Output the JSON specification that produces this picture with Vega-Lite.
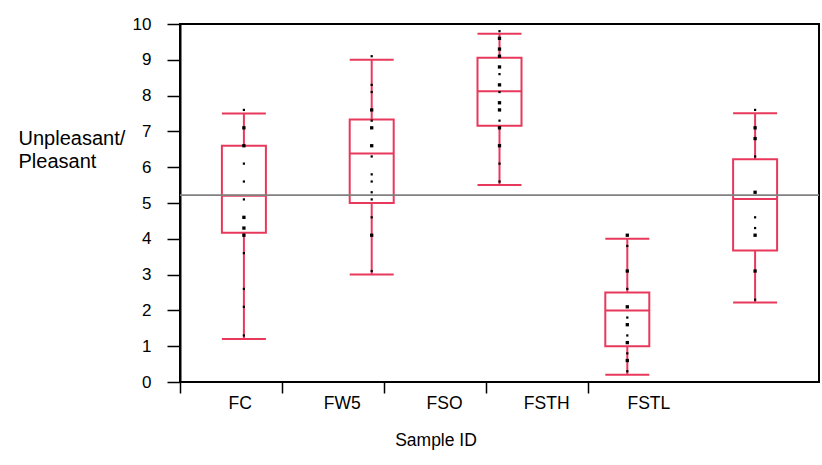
{
  "$schema": "https://vega.github.io/schema/vega-lite/v6.json",
  "width": 639,
  "height": 358,
  "autosize": {"type": "none"},
  "padding": {"left": 180, "top": 24, "right": 3, "bottom": 83},
  "background": "white",
  "config": {
    "view": {"stroke": "#000", "strokeWidth": 2},
    "font": "Liberation Sans",
    "tick": {"opacity": 1},
    "axisY": {
      "titleAngle": 0, "titleAlign": "left", "titleBaseline": "top",
      "titleX": -162, "titleY": 104, "titleLineHeight": 23,
      "titleFontSize": 20, "titleFontWeight": "normal", "titleColor": "#000", "titleFont": "Liberation Sans",
      "values": [0, 1, 2, 3, 4, 5, 6, 7, 8, 9, 10],
      "labelFontSize": 17, "labelFont": "Liberation Sans", "labelColor": "#000", "labelPadding": 16,
      "labelFlush": false, "labelOverlap": false,
      "tickSize": 13, "tickColor": "#000", "tickWidth": 1.5,
      "domainColor": "#000", "domainWidth": 2, "grid": false
    }
  },
  "datasets": {
    "summary": [
      {"id": "FC", "lower": 1.2, "q1": 4.17, "median": 5.2, "q3": 6.6, "upper": 7.5},
      {"id": "FW5", "lower": 3.0, "q1": 5.0, "median": 6.38, "q3": 7.33, "upper": 9.0},
      {"id": "FSO", "lower": 5.5, "q1": 7.16, "median": 8.12, "q3": 9.06, "upper": 9.73},
      {"id": "FSTH", "lower": 0.2, "q1": 1.0, "median": 2.0, "q3": 2.5, "upper": 4.0},
      {"id": "FSTL", "lower": 2.22, "q1": 3.67, "median": 5.11, "q3": 6.22, "upper": 7.51}
    ],
    "points": [
      {"id": "FC", "value": 7.6, "n": 1}, {"id": "FC", "value": 7.1, "n": 2}, {"id": "FC", "value": 6.6, "n": 2},
      {"id": "FC", "value": 6.1, "n": 1}, {"id": "FC", "value": 5.6, "n": 1}, {"id": "FC", "value": 5.1, "n": 1},
      {"id": "FC", "value": 4.6, "n": 2}, {"id": "FC", "value": 4.3, "n": 2}, {"id": "FC", "value": 4.1, "n": 2},
      {"id": "FC", "value": 3.6, "n": 1}, {"id": "FC", "value": 2.6, "n": 1}, {"id": "FC", "value": 2.1, "n": 1},
      {"id": "FC", "value": 1.3, "n": 1},
      {"id": "FW5", "value": 9.1, "n": 1}, {"id": "FW5", "value": 8.3, "n": 1}, {"id": "FW5", "value": 8.1, "n": 1},
      {"id": "FW5", "value": 7.6, "n": 2}, {"id": "FW5", "value": 7.3, "n": 1}, {"id": "FW5", "value": 7.1, "n": 2},
      {"id": "FW5", "value": 6.6, "n": 2}, {"id": "FW5", "value": 6.3, "n": 1}, {"id": "FW5", "value": 5.8, "n": 1},
      {"id": "FW5", "value": 5.6, "n": 1}, {"id": "FW5", "value": 5.3, "n": 1}, {"id": "FW5", "value": 5.1, "n": 1},
      {"id": "FW5", "value": 4.6, "n": 1}, {"id": "FW5", "value": 4.1, "n": 2}, {"id": "FW5", "value": 3.1, "n": 1},
      {"id": "FSO", "value": 9.8, "n": 1}, {"id": "FSO", "value": 9.6, "n": 2}, {"id": "FSO", "value": 9.3, "n": 2},
      {"id": "FSO", "value": 9.1, "n": 2}, {"id": "FSO", "value": 8.8, "n": 2}, {"id": "FSO", "value": 8.6, "n": 1},
      {"id": "FSO", "value": 8.3, "n": 2}, {"id": "FSO", "value": 8.1, "n": 1}, {"id": "FSO", "value": 7.8, "n": 2},
      {"id": "FSO", "value": 7.6, "n": 2}, {"id": "FSO", "value": 7.3, "n": 1}, {"id": "FSO", "value": 7.1, "n": 2},
      {"id": "FSO", "value": 6.6, "n": 2}, {"id": "FSO", "value": 6.1, "n": 1}, {"id": "FSO", "value": 5.6, "n": 1},
      {"id": "FSTH", "value": 4.1, "n": 2}, {"id": "FSTH", "value": 3.8, "n": 1}, {"id": "FSTH", "value": 3.1, "n": 2},
      {"id": "FSTH", "value": 2.6, "n": 1}, {"id": "FSTH", "value": 2.1, "n": 2}, {"id": "FSTH", "value": 1.8, "n": 1},
      {"id": "FSTH", "value": 1.6, "n": 2}, {"id": "FSTH", "value": 1.3, "n": 1}, {"id": "FSTH", "value": 1.1, "n": 2},
      {"id": "FSTH", "value": 0.8, "n": 1}, {"id": "FSTH", "value": 0.6, "n": 2}, {"id": "FSTH", "value": 0.3, "n": 1},
      {"id": "FSTL", "value": 7.6, "n": 1}, {"id": "FSTL", "value": 7.1, "n": 2}, {"id": "FSTL", "value": 6.8, "n": 2},
      {"id": "FSTL", "value": 6.3, "n": 1}, {"id": "FSTL", "value": 5.3, "n": 2}, {"id": "FSTL", "value": 4.6, "n": 1},
      {"id": "FSTL", "value": 4.3, "n": 1}, {"id": "FSTL", "value": 4.1, "n": 2}, {"id": "FSTL", "value": 3.1, "n": 2},
      {"id": "FSTL", "value": 2.3, "n": 1}
    ]
  },
  "layer": [
    {
      "layer": [
        {
          "data": {"name": "summary"},
          "mark": {"type": "rule", "color": "#e8395c", "strokeWidth": 2},
          "encoding": {
            "x": {"field": "id", "type": "nominal", "sort": ["FC", "FW5", "FSO", "FSTH", "FSTL"], "scale": {"paddingInner": 0, "paddingOuter": 0}, "axis": null},
            "y": {"field": "lower", "type": "quantitative", "scale": {"domain": [0, 10], "nice": false}, "title": ["Unpleasant/", "Pleasant"]},
            "y2": {"field": "upper"}
          }
        },
        {
          "data": {"name": "summary"},
          "mark": {"type": "bar", "fill": "white", "stroke": "#e8395c", "strokeWidth": 2, "size": 44, "opacity": 1},
          "encoding": {
            "x": {"field": "id", "type": "nominal", "sort": ["FC", "FW5", "FSO", "FSTH", "FSTL"], "axis": null},
            "y": {"field": "q1", "type": "quantitative", "title": ["Unpleasant/", "Pleasant"]},
            "y2": {"field": "q3"}
          }
        },
        {
          "data": {"name": "summary"},
          "mark": {"type": "tick", "color": "#e8395c", "thickness": 2, "size": 44, "opacity": 1},
          "encoding": {
            "x": {"field": "id", "type": "nominal", "sort": ["FC", "FW5", "FSO", "FSTH", "FSTL"], "axis": null},
            "y": {"field": "median", "type": "quantitative", "title": ["Unpleasant/", "Pleasant"]}
          }
        },
        {
          "data": {"name": "summary"},
          "mark": {"type": "tick", "color": "#e8395c", "thickness": 2, "size": 44, "opacity": 1},
          "encoding": {
            "x": {"field": "id", "type": "nominal", "sort": ["FC", "FW5", "FSO", "FSTH", "FSTL"], "axis": null},
            "y": {"field": "lower", "type": "quantitative", "title": ["Unpleasant/", "Pleasant"]}
          }
        },
        {
          "data": {"name": "summary"},
          "mark": {"type": "tick", "color": "#e8395c", "thickness": 2, "size": 44, "opacity": 1},
          "encoding": {
            "x": {"field": "id", "type": "nominal", "sort": ["FC", "FW5", "FSO", "FSTH", "FSTL"], "axis": null},
            "y": {"field": "upper", "type": "quantitative", "title": ["Unpleasant/", "Pleasant"]}
          }
        },
        {
          "data": {"values": [{"grand_mean": 5.22}]},
          "mark": {"type": "rule", "color": "#808080", "strokeWidth": 1.8},
          "encoding": {
            "y": {"field": "grand_mean", "type": "quantitative", "title": ["Unpleasant/", "Pleasant"]}
          }
        },
        {
          "data": {"name": "points"},
          "mark": {"type": "point", "shape": "square", "filled": true, "color": "#000", "opacity": 1},
          "encoding": {
            "x": {"field": "id", "type": "nominal", "sort": ["FC", "FW5", "FSO", "FSTH", "FSTL"], "axis": null},
            "y": {"field": "value", "type": "quantitative", "title": ["Unpleasant/", "Pleasant"]},
            "size": {"field": "n", "type": "quantitative", "scale": {"domain": [1, 2], "range": [5, 11]}, "legend": null}
          }
        }
      ]
    },
    {
      "data": {"name": "summary"},
      "mark": {"type": "rule", "opacity": 0},
      "encoding": {
        "x": {
          "field": "id", "type": "nominal", "sort": ["FC", "FW5", "FSO", "FSTH", "FSTL"],
          "scale": {"range": [0, 511], "paddingInner": 0, "paddingOuter": 0},
          "axis": {
            "title": "Sample ID", "titleFontSize": 17.5, "titleFontWeight": "normal", "titleColor": "#000", "titleFont": "Liberation Sans",
            "titlePadding": 20,
            "bandPosition": 0, "labelAlign": "center", "labelOffset": 9, "labelAngle": 0,
            "labelFontSize": 17.5, "labelFont": "Liberation Sans", "labelColor": "#000", "labelPadding": 1,
            "tickSize": 11, "tickColor": "#000", "tickWidth": 1.5, "domain": false, "grid": false
          }
        }
      }
    }
  ],
  "resolve": {"scale": {"x": "independent"}}
}
